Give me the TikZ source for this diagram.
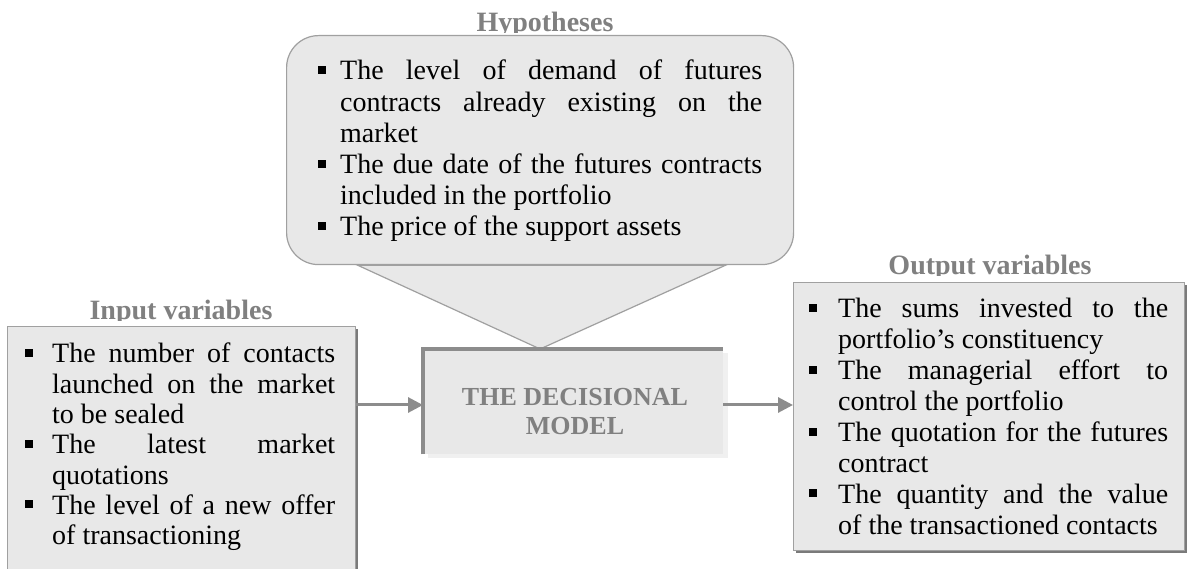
\documentclass[tikz,border=0pt]{standalone}
\usepackage{fontspec}
\setmainfont{Liberation Serif}
\usetikzlibrary{arrows.meta,shadows,backgrounds}
\definecolor{boxfill}{HTML}{E8E8E8}
\definecolor{edgegray}{HTML}{A0A0A0}
\definecolor{darkedge}{HTML}{8C8C8C}
\definecolor{titlegray}{HTML}{808080}
\definecolor{shadowgray}{HTML}{7A7A7A}
\definecolor{lightshadow}{HTML}{F0F0F0}
\newcommand{\bul}[1]{\leavevmode\llap{\rule[6pt]{8pt}{8pt}\hspace{#1}}}
\newcommand{\jl}[1]{\makebox[\linewidth][s]{#1}}
\begin{document}
\begin{tikzpicture}[x=1pt,y=-1pt,
  txt/.style={inner sep=0pt, anchor=base west},
  ttl/.style={inner sep=0pt, anchor=base, font=\fontsize{28}{31}\selectfont\bfseries, text=titlegray},
  varbox/.style={draw=edgegray, line width=1.2pt, fill=boxfill, inner sep=0pt, anchor=north west,
    drop shadow={shadow xshift=2.5pt, shadow yshift=-2.5pt, fill=shadowgray, opacity=1}},
  callout/.style={draw=edgegray, line width=1.2pt, fill=boxfill},
  arr/.style={draw=darkedge, line width=3pt, -{Triangle[length=15pt,width=15pt]}}]
\useasboundingbox (0,0) rectangle (1187,569);

% boxes
\node[callout, rounded corners=32pt, minimum width=507pt, minimum height=229pt, anchor=north west, inner sep=0pt] (hyp) at (286,35) {};
\node[varbox, minimum width=348pt, minimum height=262pt] (inbox) at (7,326) {};
\node[varbox, minimum width=391pt, minimum height=268pt] (outbox) at (793,282) {};
\node[fill=boxfill, minimum width=300pt, minimum height=105pt, anchor=north west, inner sep=0pt,
  drop shadow={shadow xshift=5pt, shadow yshift=-4pt, fill=lightshadow, opacity=1}] (dec) at (423,349) {};
\draw[darkedge, line width=3.3pt] (dec.south west) -- (dec.north west) -- (dec.north east);

% callout pointer (behind the rounded box)
\coordinate (tip) at (hyp.south |- dec.north);
\begin{scope}[on background layer]
  \fill[white] (0,0) rectangle (1187,569);
  \draw[callout, line join=miter] ([xshift=-182.5pt]hyp.south) -- (tip) -- ([xshift=185.5pt]hyp.south) -- cycle;
\end{scope}

% titles (bottoms clipped as in the original)
\begin{scope}
  \clip (0,0) rectangle (1187,32.5);
  \node[ttl] (hyptitle) at (545,32) {Hypotheses};
\end{scope}
\begin{scope}
  \clip (0,290) rectangle (400,320.5);
  \node[ttl] (intitle) at (181,320) {Input variables};
\end{scope}
\begin{scope}
  \clip (790,240) rectangle (1187,275.5);
  \node[ttl] (outtitle) at (990,275) {Output variables};
\end{scope}

% texts
\node[txt, font=\fontsize{28}{31.2}\selectfont] (hyptext) at (340,80) {\parbox[t]{422pt}{%
\bul{14pt}\jl{The level of demand of futures}\\
\jl{contracts already existing on the}\\
market\\
\bul{14pt}\jl{The due date of the futures contracts}\\
included in the portfolio\\
\bul{14pt}The price of the support assets}};

\node[txt, font=\fontsize{28}{30.3}\selectfont] (intext) at (52,363) {\parbox[t]{283pt}{%
\bul{19pt}\jl{The number of contacts}\\
\jl{launched on the market}\\
to be sealed\\
\bul{19pt}\jl{The latest market}\\
quotations\\
\bul{19pt}\jl{The level of a new offer}\\
of transactioning}};

\node[txt, font=\fontsize{28}{30.9}\selectfont] (outtext) at (838,318) {\parbox[t]{330pt}{%
\bul{21pt}\jl{The sums invested to the}\\
portfolio’s constituency\\
\bul{21pt}\jl{The managerial effort to}\\
control the portfolio\\
\bul{21pt}\jl{The quotation for the futures}\\
contract\\
\bul{21pt}\jl{The quantity and the value}\\
of the transactioned contacts}};

\node[inner sep=0pt, anchor=base, font=\fontsize{26}{29}\selectfont\bfseries, text=titlegray] (dectext) at (575,406)
  {\parbox[t]{300pt}{\centering THE DECISIONAL\\MODEL}};

% connectors
\coordinate (mid) at (0,405);
\draw[arr] (inbox.east |- mid) -- (dec.west |- mid);
\draw[arr] (dec.east |- mid) -- (outbox.west |- mid);
\end{tikzpicture}
\end{document}
